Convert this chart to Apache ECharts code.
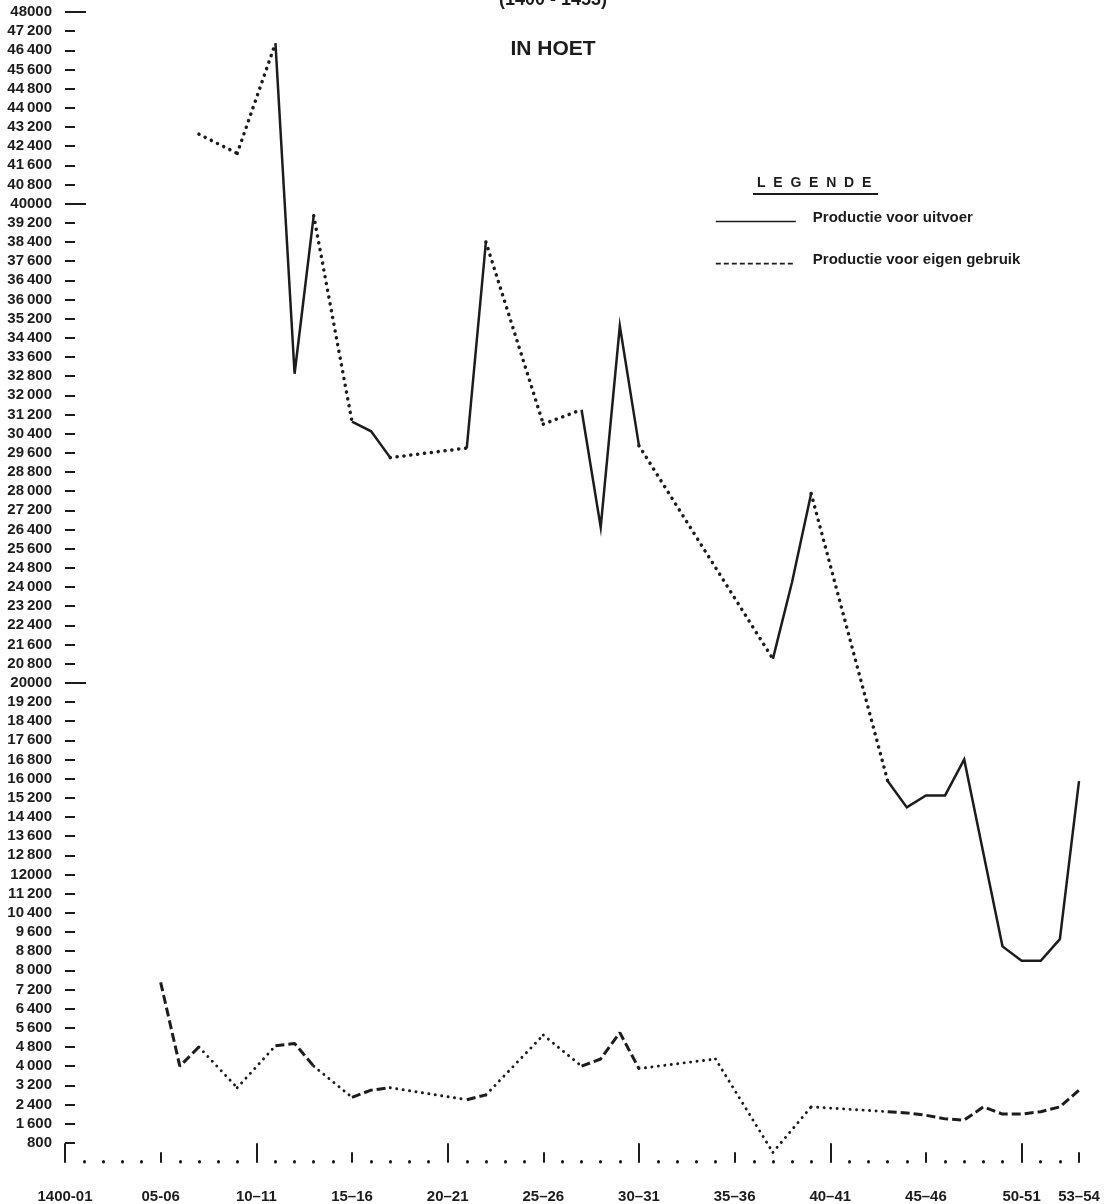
<!DOCTYPE html>
<html>
<head>
<meta charset="utf-8">
<title>Productie in hoet (1400-1453)</title>
<script src="https://cdn.jsdelivr.net/npm/echarts@6/dist/echarts.min.js"></script>
<style>
  html, body { margin: 0; padding: 0; background: #fff; }
  .chart { width: 1106px; height: 1204px; }
</style>
</head>
<body>
<div class="chart"></div>
<script>
// years 1400-01 .. 1453-54
var categories = ["1400-01", "01-02", "02-03", "03-04", "04-05", "05-06", "06-07", "07-08", "08-09", "09-10",
  "10–11", "11–12", "12–13", "13–14", "14–15", "15–16", "16–17", "17–18", "18–19", "19–20",
  "20–21", "21–22", "22–23", "23–24", "24–25", "25–26", "26–27", "27–28", "28–29", "29–30",
  "30–31", "31–32", "32–33", "33–34", "34–35", "35–36", "36–37", "37–38", "38–39", "39–40",
  "40–41", "41–42", "42–43", "43–44", "44–45", "45–46", "46–47", "47–48", "48–49", "49–50",
  "50-51", "51–52", "52–53", "53–54"];

// productie voor uitvoer (null = geen gegeven, dan stippellijn)
var uitvoer = [null, null, null, null, null, null, null, 42900, null, 42100,
  null, 46700, 32900, 39500, null, 30900, 30500, 29400, null, null,
  null, 29800, 38400, null, null, 30800, null, 31400, 26500, 34900,
  29900, null, null, null, null, null, null, 21000, 24200, 27900,
  null, null, null, 15900, 14800, 15300, 15300, 16800, 12900, 9000,
  8400, 8400, 9300, 15900];

// productie voor eigen gebruik
var eigenGebruik = [null, null, null, null, null, 7500, 4000, 4800, null, 3100,
  null, 4850, 4950, 4000, null, 2700, 3000, 3100, null, null,
  null, 2600, 2800, null, null, 5300, null, 4000, 4300, 5400,
  3900, null, null, null, 4300, null, null, 400, null, 2300,
  null, null, null, 2100, 2050, 1950, 1800, 1750, 2300, 2000,
  2000, 2100, 2300, 3000];

// y tick labels as printed, from 800 up to 48000 (step 800)
var yTickLabels = ["800", "1 600", "2 400", "3 200", "4 000", "4 800", "5 600", "6 400", "7 200", "8 000",
  "8 800", "9 600", "10 400", "11 200", "12000", "12 800", "13 600", "14 400", "15 200", "16 000",
  "16 800", "17 600", "18 400", "19 200", "20000", "20 800", "21 600", "22 400", "23 200", "24 000",
  "24 800", "25 600", "26 400", "27 200", "28 000", "28 800", "29 600", "30 400", "31 200", "32 000",
  "32 800", "33 600", "34 400", "35 200", "36 000", "36 400", "37 600", "38 400", "39 200", "40000",
  "40 800", "41 600", "42 400", "43 200", "44 000", "44 800", "45 600", "46 400", "47 200", "48000"];
var yStep = 800;
var yLongTicks = [20000, 40000, 48000];

(function () {
  var ink = "#1c1c1c";
  var font = "Liberation Sans";
  var myEcharts = echarts.init(document.querySelector('.chart'));

  var yTickValues = yTickLabels.map(function (t, i) { return (i + 1) * yStep; });

  // dotted connection for every gap in a series (built from the data itself)
  function gapSeries(values, name, width, dash) {
    var list = [];
    var last = -1;
    values.forEach(function (v, i) {
      if (v === null) return;
      if (last >= 0 && i - last > 1) {
        var a = last, b = i;
        list.push({
          name: name,
          type: 'line',
          symbol: 'none',
          silent: true,
          connectNulls: true,
          z: 2,
          data: values.map(function (w, j) { return (j === a || j === b) ? w : null; }),
          lineStyle: { color: ink, width: width, type: dash, cap: 'round' }
        });
      }
      last = i;
    });
    return list;
  }

  function catAxis(showFn, len, width, withLabel) {
    return {
      type: 'category',
      data: categories,
      boundaryGap: false,
      position: 'bottom',
      axisLine: { show: false },
      axisTick: {
        show: true,
        inside: true,
        length: len,
        interval: function (idx) { return showFn(idx); },
        lineStyle: { color: ink, width: width, cap: 'round' }
      },
      axisLabel: withLabel ? {
        show: true,
        interval: function (idx) { return idx % 5 === 0 || idx === categories.length - 1; },
        margin: 27,
        color: ink,
        fontFamily: font,
        fontWeight: 'bold',
        fontSize: 15
      } : { show: false },
      splitLine: { show: false }
    };
  }

  var last = categories.length - 1;

  var option = {
    backgroundColor: '#fff',
    animation: false,
    title: [
      {
        text: '(1400 - 1453)',
        left: 'center',
        top: -14,
        textStyle: { fontFamily: font, fontWeight: 'bold', fontSize: 18, color: ink }
      },
      {
        text: 'IN HOET',
        left: 'center',
        top: 34,
        textStyle: { fontFamily: font, fontWeight: 'bold', fontSize: 21, color: ink }
      },
      {
        text: 'L  E  G  E  N  D  E',
        left: 752,
        top: 171,
        textStyle: { fontFamily: font, fontWeight: 'bold', fontSize: 14, color: ink }
      }
    ],
    graphic: [
      // underline below "LEGENDE"
      { type: 'line', shape: { x1: 753, y1: 194, x2: 878, y2: 194 }, style: { stroke: ink, lineWidth: 2 } }
    ],
    legend: {
      orient: 'vertical',
      left: 715,
      top: 210,
      padding: 0,
      itemGap: 25,
      itemWidth: 80,
      itemHeight: 14,
      selectedMode: false,
      formatter: '{t|{name}}',
      textStyle: {
        fontFamily: font, fontWeight: 'bold', fontSize: 15, color: ink, padding: [0, 0, 0, 12],
        rich: { t: { fontFamily: font, fontWeight: 'bold', fontSize: 15, color: ink, padding: [0, 0, 8, 0] } }
      },
      data: [
        { name: 'Productie voor uitvoer', itemStyle: { opacity: 0 }, lineStyle: { width: 1.6, type: 'solid', color: ink } },
        { name: 'Productie voor eigen gebruik', itemStyle: { opacity: 0 }, lineStyle: { width: 1.6, type: [5, 3], color: ink } }
      ]
    },
    grid: {
      left: 65,
      right: 27,
      top: 12,
      bottom: 39,
      containLabel: false
    },
    xAxis: [
      // long ticks every 10 years
      catAxis(function (i) { return i % 10 === 0; }, 18, 2, true),
      // short ticks every 5 years and at the end
      catAxis(function (i) { return (i % 5 === 0 && i % 10 !== 0) || i === last; }, 9, 2, false),
      // dots for the other years
      catAxis(function (i) { return i % 5 !== 0 && i !== last; }, 0.5, 3, false)
    ],
    yAxis: [
      {
        type: 'value',
        position: 'left',
        min: 0,
        max: 48000,
        interval: yStep,
        axisLine: { show: false },
        splitLine: { show: false },
        axisTick: {
          show: true,
          inside: true,
          length: 10,
          customValues: yTickValues,
          lineStyle: { color: ink, width: 2 }
        },
        axisLabel: {
          customValues: yTickValues,
          margin: 13,
          color: ink,
          fontFamily: font,
          fontWeight: 'bold',
          fontSize: 15,
          formatter: function (v) {
            var i = Math.round(v / yStep) - 1;
            return (yTickLabels[i] || '').replace(' ', '\u2009');
          }
        }
      },
      {
        type: 'value',
        position: 'left',
        offset: 0,
        min: 0,
        max: 48000,
        axisLine: { show: false },
        splitLine: { show: false },
        axisLabel: { show: false },
        axisTick: {
          show: true,
          inside: true,
          length: 21,
          customValues: yLongTicks,
          lineStyle: { color: ink, width: 2 }
        }
      }
    ],
    series: [
      {
        name: 'Productie voor uitvoer',
        type: 'line',
        symbol: 'none',
        connectNulls: false,
        z: 3,
        data: uitvoer,
        lineStyle: { color: ink, width: 2.5, type: 'solid', join: 'miter' }
      },
      {
        name: 'Productie voor eigen gebruik',
        type: 'line',
        symbol: 'none',
        connectNulls: false,
        z: 3,
        data: eigenGebruik,
        lineStyle: { color: ink, width: 3, type: [9, 4] }
      }
    ]
      .concat(gapSeries(uitvoer, 'Productie voor uitvoer', 3.5, [0.1, 6.8]))
      .concat(gapSeries(eigenGebruik, 'Productie voor eigen gebruik', 2.9, [0.1, 6.4]))
  };

  myEcharts.setOption(option);
  window.addEventListener('resize', function () {
    myEcharts.resize();
  });
})();
</script>
</body>
</html>
